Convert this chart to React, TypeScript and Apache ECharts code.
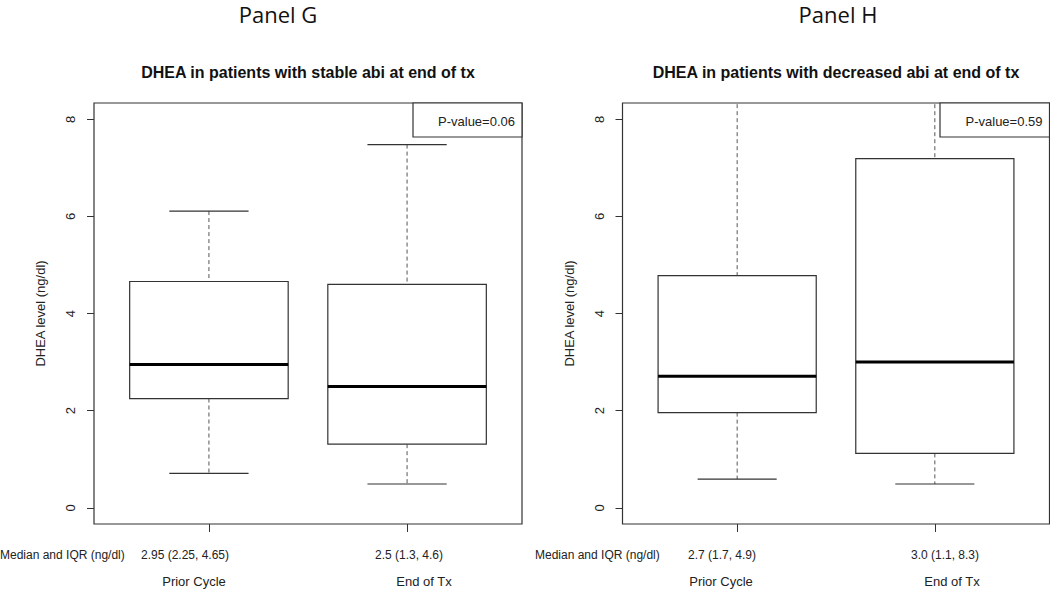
import React, { useEffect, useRef } from "react";
import * as echarts from "echarts";

// ---- data ----
const categories = ["Prior Cycle", "End of Tx"];
const panelNames = ["Panel G", "Panel H"];
const titles = [
  "DHEA in patients with stable abi at end of tx",
  "DHEA in patients with decreased abi at end of tx",
];
const pValues = ["P-value=0.06", "P-value=0.59"];
// [min, q1, median, q3, max] per category
const statsG = [
  [0.71, 2.25, 2.95, 4.66, 6.11],
  [0.49, 1.31, 2.5, 4.6, 7.48],
];
const statsH = [
  [0.59, 1.96, 2.71, 4.78, 8.6],
  [0.49, 1.12, 3.0, 7.19, 8.6],
];
const summaryG = ["2.95 (2.25, 4.65)", "2.5 (1.3, 4.6)"];
const summaryH = ["2.7 (1.7, 4.9)", "3.0 (1.1, 8.3)"];
const yTicks = [0, 2, 4, 6, 8];
const yName = "DHEA level (ng/dl)";
const rowLabel = "Median and IQR (ng/dl)";

const FONT = "'Liberation Sans', Arial, Helvetica, sans-serif";

function boxRender(params: any, api: any) {
  const x = api.value(0);
  const lo = api.value(1);
  const q1 = api.value(2);
  const med = api.value(3);
  const q3 = api.value(4);
  const hi = api.value(5);
  const c = (xx: number, yy: number) => api.coord([xx, yy]);
  const [xc, yLo] = c(x, lo);
  const [, yHi] = c(x, hi);
  const [xl, yQ3] = c(x - 0.4, q3);
  const [xr, yQ1] = c(x + 0.4, q1);
  const [, yMed] = c(x, med);
  const [cl] = c(x - 0.2, lo);
  const [cr] = c(x + 0.2, lo);
  const stroke = "#333";
  return {
    type: "group",
    children: [
      {
        type: "line",
        shape: { x1: xc, y1: yHi, x2: xc, y2: yQ3 },
        style: { stroke: "#555", lineWidth: 1, lineDash: [4, 3] },
      },
      {
        type: "line",
        shape: { x1: xc, y1: yQ1, x2: xc, y2: yLo },
        style: { stroke: "#555", lineWidth: 1, lineDash: [4, 3] },
      },
      {
        type: "line",
        shape: { x1: cl, y1: yHi, x2: cr, y2: yHi },
        style: { stroke, lineWidth: 1.2 },
      },
      {
        type: "line",
        shape: { x1: cl, y1: yLo, x2: cr, y2: yLo },
        style: { stroke, lineWidth: 1.2 },
      },
      {
        type: "rect",
        shape: { x: xl, y: yQ3, width: xr - xl, height: yQ1 - yQ3 },
        style: { fill: "#fff", stroke, lineWidth: 1.2 },
      },
      {
        type: "line",
        shape: { x1: xl, y1: yMed, x2: xr, y2: yMed },
        style: { stroke: "#000", lineWidth: 3 },
      },
    ],
  };
}

export default function App() {
  const ref = useRef<HTMLDivElement>(null);
  useEffect(() => {
    if (!ref.current) return;
    const chart = echarts.init(ref.current, null, { renderer: "svg" });
    const grids = [
      { left: 94, top: 103, width: 428, height: 421 },
      { left: 622.5, top: 103, width: 427, height: 421 },
    ];
    const xAxes = grids.map((_, i) => ({
      type: "value",
      gridIndex: i,
      position: "bottom",
      min: 0.42,
      max: 2.58,
      axisLine: { show: false, onZero: false },
      splitLine: { show: false },
      axisTick: {
        show: true,
        customValues: [1, 2],
        length: 8,
        lineStyle: { color: "#333" },
      },
      axisLabel: { show: false },
    }));
    const yAxes = grids.map((_, i) => ({
      type: "value",
      gridIndex: i,
      min: -0.334,
      max: 8.336,
      axisLine: { show: false, onZero: false },
      splitLine: { show: false },
      axisTick: {
        show: true,
        customValues: yTicks,
        length: 7,
        lineStyle: { color: "#333" },
      },
      axisLabel: {
        customValues: yTicks,
        rotate: 90,
        margin: 17,
        fontSize: 13,
        color: "#222",
        fontFamily: FONT,
      },
      name: yName,
      nameLocation: "middle",
      nameGap: 47,
      nameTextStyle: { fontSize: 13, color: "#222", fontFamily: FONT },
    }));
    const toRows = (s: number[][]) => s.map((r, i) => [i + 1, ...r]);
    const series = [statsG, statsH].map((s, i) => ({
      type: "custom",
      xAxisIndex: i,
      yAxisIndex: i,
      clip: true,
      renderItem: boxRender,
      encode: { x: 0, y: [1, 2, 3, 4, 5] },
      data: toRows(s),
    }));

    const txt = (text: string, x: number, y: number, opts: any = {}) => ({
      type: "text",
      x,
      y,
      silent: true,
      style: {
        text,
        fill: opts.fill || "#222",
        fontSize: opts.fontSize || 12,
        fontWeight: opts.fontWeight || "normal",
        fontFamily: opts.fontFamily || FONT,
        align: opts.align || "center",
        verticalAlign: "middle",
      },
    });

    const graphic: any[] = [];
    // panel labels
    graphic.push(
      txt(panelNames[0], 278, 14, { fontSize: 22, fontFamily: "'Open Sans', sans-serif", fill: "#111" }),
      txt(panelNames[1], 838, 14, { fontSize: 22, fontFamily: "'Open Sans', sans-serif", fill: "#111" })
    );
    // titles
    graphic.push(
      txt(titles[0], 308, 72, { fontSize: 16, fontWeight: "bold", fill: "#111" }),
      txt(titles[1], 836, 72, { fontSize: 16, fontWeight: "bold", fill: "#111" })
    );
    // p-value boxes
    const pBoxes = [
      { x: 413, r: 522 },
      { x: 940, r: 1049.5 },
    ];
    pBoxes.forEach((b, i) => {
      graphic.push({
        type: "rect",
        shape: { x: b.x, y: 103, width: b.r - b.x, height: 34 },
        style: { fill: "#fff", stroke: "#333", lineWidth: 1.2 },
        z: 100,
      });
      graphic.push({
        ...txt(pValues[i], b.r - 7, 121, { fontSize: 13, align: "right" }),
        z: 101,
      });
    });
    // bottom rows
    graphic.push(
      txt(rowLabel, 0, 555, { align: "left" }),
      txt(rowLabel, 535, 555, { align: "left" })
    );
    const sumX = [
      [185, 409],
      [722, 945],
    ];
    [summaryG, summaryH].forEach((s, i) =>
      s.forEach((t, j) => graphic.push(txt(t, sumX[i][j], 555)))
    );
    const catX = [
      [194, 424],
      [721, 952],
    ];
    catX.forEach((row) =>
      row.forEach((x, j) => graphic.push(txt(categories[j], x, 581, { fontSize: 13 })))
    );

    chart.setOption({
      animation: false,
      backgroundColor: "#fff",
      grid: grids.map((g) => ({
        ...g,
        show: true,
        borderColor: "#333",
        borderWidth: 1.2,
        backgroundColor: "transparent",
      })),
      xAxis: xAxes,
      yAxis: yAxes,
      series,
      graphic,
    });
    return () => chart.dispose();
  }, []);
  return (
    <div
      ref={ref}
      style={{ position: "fixed", left: 0, top: 0, width: 1050, height: 589 }}
    />
  );
}
